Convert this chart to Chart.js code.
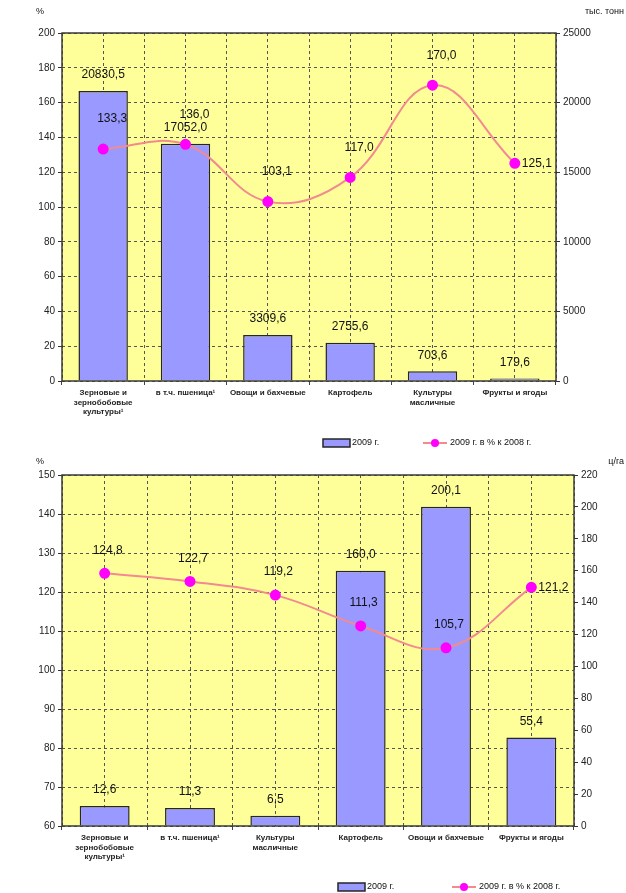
<!DOCTYPE html>
<html lang="ru">
<head>
<meta charset="utf-8">
<title>Сельское хозяйство, 2009 г.</title>
<script src="https://cdn.jsdelivr.net/npm/chart.js@4.4.0/dist/chart.umd.min.js"></script>
<style>
  html, body { margin: 0; padding: 0; background: #fff; }
  canvas { display: block; }
</style>
</head>
<body>
<canvas id="grossChart" width="626" height="450"></canvas>
<canvas id="yieldChart" width="626" height="443"></canvas>
<script>
// Валовой сбор, тыс. тонн
const grossLabels = [['Зерновые и', 'зернобобовые', 'культуры¹'], 'в т.ч. пшеница¹', 'Овощи и бахчевые', 'Картофель', ['Культуры', 'масличные'], 'Фрукты и ягоды'];
const grossValues = [20830.5, 17052.0, 3309.6, 2755.6, 703.6, 179.6];
const grossPercent = [133.3, 136.0, 103.1, 117.0, 170.0, 125.1];

// Урожайность, ц/га
const yieldLabels = [['Зерновые и', 'зернобобовые', 'культуры¹'], 'в т.ч. пшеница¹', ['Культуры', 'масличные'], 'Картофель', 'Овощи и бахчевые', 'Фрукты и ягоды'];
const yieldValues = [12.6, 11.3, 6.5, 160.0, 200.1, 55.4];
const yieldPercent = [124.8, 122.7, 119.2, 111.3, 105.7, 121.2];

const seriesNames = ['2009 г.', '2009 г. в % к 2008 г.'];

const FONT = '"Liberation Sans", Arial, sans-serif';
Chart.defaults.font.family = FONT;
Chart.defaults.color = '#111';

const fmt = v => v.toFixed(1).replace('.', ',');

// желтая подложка области построения и рамка вокруг неё
const plotFrame = {
  id: 'plotFrame',
  beforeDraw(chart) {
    const { ctx, chartArea: a } = chart;
    ctx.save();
    ctx.fillStyle = '#ffff99';
    ctx.fillRect(a.left, a.top, a.width, a.height);
    ctx.restore();
  },
  afterDraw(chart) {
    const { ctx, chartArea: a } = chart;
    ctx.save();
    ctx.strokeStyle = '#3a3a3a';
    ctx.lineWidth = 1.5;
    ctx.strokeRect(a.left, a.top, a.width, a.height);
    ctx.restore();
  }
};

// подписи значений над столбцами и точками
const valueLabels = {
  id: 'valueLabels',
  afterDraw(chart, args, opts) {
    const ctx = chart.ctx;
    ctx.save();
    ctx.font = '12px ' + FONT;
    ctx.fillStyle = '#111';
    ctx.textBaseline = 'middle';
    chart.data.datasets.forEach((ds, i) => {
      const meta = chart.getDatasetMeta(i);
      meta.data.forEach((el, j) => {
        const text = fmt(ds.data[j]);
        if (ds.type === 'bar') {
          ctx.textAlign = 'center';
          ctx.fillText(text, el.x, el.y - 16);
        } else if (j === ds.data.length - 1) {
          ctx.textAlign = 'left';
          ctx.fillText(text, el.x + 7, el.y);
        } else {
          ctx.textAlign = 'center';
          ctx.fillText(text, el.x + opts.dx, el.y - opts.dy);
        }
      });
    });
    ctx.restore();
  }
};

// единицы измерения над осями
const axisUnits = {
  id: 'axisUnits',
  afterDraw(chart, args, opts) {
    const ctx = chart.ctx;
    ctx.save();
    ctx.font = '9px ' + FONT;
    ctx.fillStyle = '#111';
    ctx.textBaseline = 'middle';
    ctx.textAlign = 'left';
    ctx.fillText(opts.left, 36, opts.y);
    ctx.textAlign = 'right';
    ctx.fillText(opts.right, chart.width - 2, opts.y);
    ctx.restore();
  }
};

// легенда: прямоугольник для столбцов, линия с маркером для процентов
const excelLegend = {
  id: 'excelLegend',
  afterDraw(chart, args, opts) {
    const ctx = chart.ctx;
    const bar = chart.data.datasets[1];
    const line = chart.data.datasets[0];
    const y = opts.y;
    ctx.save();
    ctx.font = '9px ' + FONT;
    ctx.textBaseline = 'middle';
    ctx.textAlign = 'left';

    ctx.fillStyle = bar.backgroundColor;
    ctx.fillRect(opts.barX, y - 4, 27, 8);
    ctx.strokeStyle = bar.borderColor;
    ctx.lineWidth = 1.5;
    ctx.strokeRect(opts.barX, y - 4, 27, 8);
    ctx.fillStyle = '#111';
    ctx.fillText(bar.label, opts.barX + 29, y);

    ctx.strokeStyle = line.borderColor;
    ctx.lineWidth = 2;
    ctx.beginPath();
    ctx.moveTo(opts.lineX, y);
    ctx.lineTo(opts.lineX + 24, y);
    ctx.stroke();
    ctx.fillStyle = line.pointBackgroundColor;
    ctx.beginPath();
    ctx.arc(opts.lineX + 12, y, 4, 0, Math.PI * 2);
    ctx.fill();
    ctx.fillStyle = '#111';
    ctx.fillText(line.label, opts.lineX + 27, y);
    ctx.restore();
  }
};

function makeChart(id, labels, bars, percents, cfg) {
  const gridColor = '#555';
  const plain = v => String(v);
  return new Chart(document.getElementById(id), {
    data: {
      labels: labels,
      datasets: [
        {
          type: 'line',
          label: seriesNames[1],
          data: percents,
          yAxisID: 'y',
          xAxisID: 'x',
          order: 0,
          borderColor: '#f38a8f',
          borderWidth: 2,
          tension: 0.4,
          pointRadius: 4.5,
          pointBackgroundColor: '#ff00ff',
          pointBorderColor: '#ff00ff'
        },
        {
          type: 'bar',
          label: seriesNames[0],
          data: bars,
          yAxisID: 'y1',
          xAxisID: 'x',
          order: 1,
          backgroundColor: '#9999ff',
          borderColor: '#262626',
          borderWidth: 1.5,
          categoryPercentage: 1,
          barPercentage: cfg.barPct
        }
      ]
    },
    options: {
      responsive: false,
      animation: false,
      layout: { padding: { top: cfg.top, left: 0, right: 0, bottom: 0 } },
      plugins: {
        legend: { display: false },
        tooltip: { enabled: false },
        valueLabels: { dx: cfg.labelDx, dy: cfg.labelDy },
        axisUnits: { left: '%', right: cfg.unit, y: 12 },
        excelLegend: cfg.legend
      },
      scales: {
        x: {
          type: 'category',
          offset: true,
          grid: { display: true, drawOnChartArea: false, offset: true, tickLength: 4, color: '#444' },
          border: { display: false },
          ticks: { autoSkip: false, maxRotation: 0, minRotation: 0, padding: 3, font: { size: 8, weight: 'bold' }, color: '#222' },
          afterFit: s => { s.height = cfg.bottom; }
        },
        // вертикальная сетка через каждые полкатегории
        xg: {
          type: 'linear',
          position: 'bottom',
          min: 0,
          max: 12,
          ticks: { display: false, stepSize: 1 },
          grid: { color: gridColor, lineWidth: 1, drawTicks: false },
          border: { display: false, dash: [3, 3] },
          afterFit: s => { s.height = 0; }
        },
        y: {
          position: 'left',
          min: cfg.pMin,
          max: cfg.pMax,
          ticks: { stepSize: cfg.pStep, padding: 3, font: { size: 10 }, color: '#222', callback: plain },
          grid: { color: gridColor, lineWidth: 1, tickLength: 4, tickColor: '#333', tickBorderDash: [] },
          border: { display: false, dash: [3, 3] },
          afterFit: s => { s.width = 62; }
        },
        y1: {
          position: 'right',
          min: 0,
          max: cfg.vMax,
          ticks: { stepSize: cfg.vStep, padding: 3, font: { size: 10 }, color: '#222', callback: plain },
          grid: { drawOnChartArea: false, tickLength: 4, tickColor: '#333' },
          border: { display: false },
          afterFit: s => { s.width = cfg.rightW; }
        }
      }
    },
    plugins: [plotFrame, valueLabels, axisUnits, excelLegend]
  });
}

makeChart('grossChart', grossLabels, grossValues, grossPercent, {
  top: 33, bottom: 69, rightW: 70, barPct: 0.6,
  pMin: 0, pMax: 200, pStep: 20, vMax: 25000, vStep: 5000,
  labelDx: 9, labelDy: 30, unit: 'тыс. тонн',
  legend: { y: 443, barX: 323, lineX: 423 }
});

makeChart('yieldChart', yieldLabels, yieldValues, yieldPercent, {
  top: 25, bottom: 67, rightW: 52, barPct: 0.585,
  pMin: 60, pMax: 150, pStep: 10, vMax: 220, vStep: 20,
  labelDx: 3, labelDy: 23, unit: 'ц/га',
  legend: { y: 437, barX: 338, lineX: 452 }
});
</script>
</body>
</html>
